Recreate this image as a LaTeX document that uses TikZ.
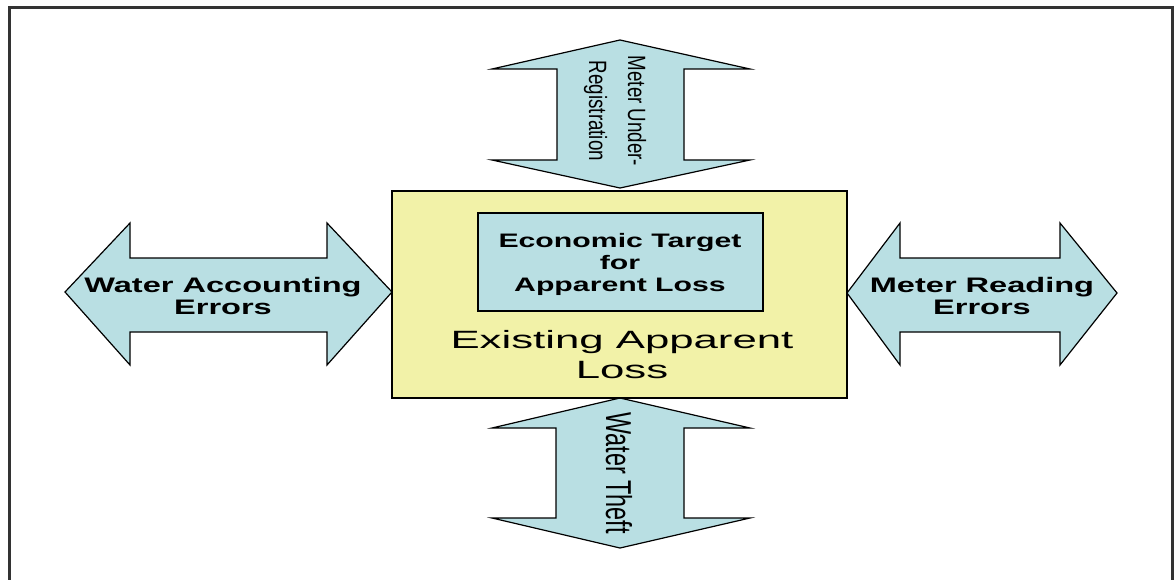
\documentclass[tikz,border=0pt]{standalone}
\usepackage{fontspec}
\setmainfont{Liberation Sans}
\newfontfamily\widesans[FakeStretch=1.55]{Liberation Sans}
\newfontfamily\widersans[FakeStretch=1.75]{Liberation Sans}
\newfontfamily\narrowsans[FakeStretch=0.75]{Liberation Sans}
\newfontfamily\narrowersans[FakeStretch=0.65]{Liberation Sans}
\definecolor{arrowblue}{HTML}{B9DFE3}
\definecolor{lossyellow}{HTML}{F2F2A8}
\definecolor{framegray}{HTML}{333333}
\begin{document}
\begin{tikzpicture}[x=1pt,y=-1pt,
  blockarrow/.style={fill=arrowblue,draw=black,line width=1.2pt,line join=miter},
  arrowtext/.style={inner sep=0pt,align=center,text=black},
  sidetext/.style={arrowtext,font=\widesans\bfseries\fontsize{21}{22}\selectfont},
  outerbox/.style={draw=black,fill=lossyellow,line width=1.8pt,inner sep=0pt},
  innerbox/.style={draw=black,fill=arrowblue,line width=1.5pt,inner sep=0pt}]
\useasboundingbox (0,0) rectangle (1174,580);
\fill[white] (0,0) rectangle (1174,580);
\clip (0,0) rectangle (1174,580);
% surrounding frame
\draw[framegray,line width=3pt] (9.5,7.5) rectangle (1172.5,600);

% four double-headed block arrows
\draw[blockarrow] (620,40) -- (750,69) -- (684,69) -- (684,160) -- (750,160) -- (620,188)
  -- (492,160) -- (557,160) -- (557,69) -- (492,69) -- cycle;
\draw[blockarrow] (620,398) -- (750,428) -- (684,428) -- (684,518) -- (750,518) -- (620,548)
  -- (492,518) -- (556,518) -- (556,428) -- (492,428) -- cycle;
\draw[blockarrow] (65,292) -- (130,223) -- (130,258) -- (327,258) -- (327,223) -- (392,292)
  -- (327,365) -- (327,332) -- (130,332) -- (130,365) -- cycle;
\draw[blockarrow] (847,293) -- (900,223) -- (900,258) -- (1060,258) -- (1060,223) -- (1117,293)
  -- (1060,365) -- (1060,332) -- (900,332) -- (900,365) -- cycle;

% central boxes
\node[outerbox,minimum width=455pt,minimum height=207pt] (loss) at (619.5,294.5) {};
\node[innerbox,minimum width=285pt,minimum height=98pt] (target) at (620.5,262) {};

% texts
\node[arrowtext,font=\widesans\bfseries\fontsize{19.5}{22}\selectfont] (targettext) at (620,264)
  {Economic Target\\for\\Apparent Loss};
\node[arrowtext,font=\widersans\fontsize{25}{30}\selectfont] (losstext) at (622,355)
  {Existing Apparent\\Loss};
\node[sidetext] (accounting) at (223,296) {Water Accounting\\Errors};
\node[sidetext] (reading) at (982,296) {Meter Reading\\Errors};
\node[arrowtext,rotate=-90,font=\narrowsans\fontsize{25}{39}\selectfont] (underreg) at (615,111)
  {Meter Under-\\Registration};
\node[arrowtext,rotate=-90,font=\narrowersans\fontsize{36}{40}\selectfont] (theft) at (619,473)
  {Water Theft};
\end{tikzpicture}
\end{document}
